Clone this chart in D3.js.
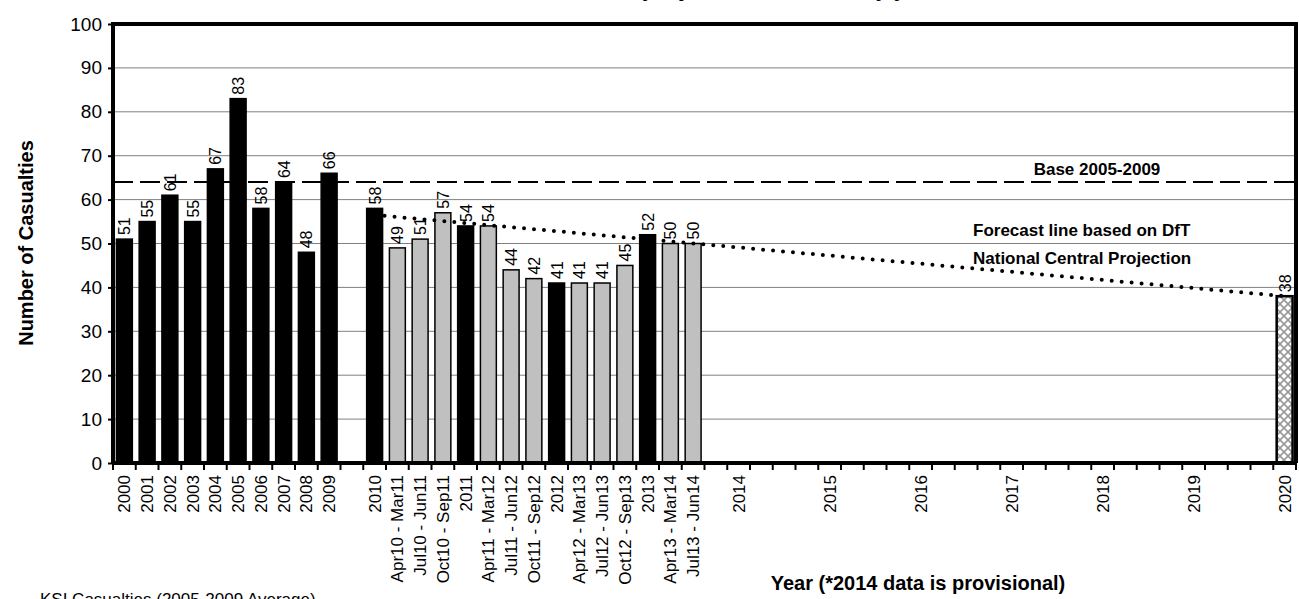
<!DOCTYPE html>
<html><head><meta charset="utf-8">
<script src="https://cdn.jsdelivr.net/npm/d3@7"></script>
<style>body{margin:0;background:#fff}text{font-family:"Liberation Sans",Arial,sans-serif}</style>
</head><body><svg id="c" width="1299" height="599"></svg>
<script>
const categories = ["2000","2001","2002","2003","2004","2005","2006","2007","2008","2009","",
 "2010","Apr10 - Mar11","Jul10 - Jun11","Oct10 - Sep11","2011","Apr11 - Mar12","Jul11 - Jun12","Oct11 - Sep12",
 "2012","Apr12 - Mar13","Jul12 - Jun13","Oct12 - Sep13","2013","Apr13 - Mar14","Jul13 - Jun14","",
 "2014","","","","2015","","","","2016","","","","2017","","","","2018","","","","2019","","","","2020"];
const annual = {"2000":51,"2001":55,"2002":61,"2003":55,"2004":67,"2005":83,"2006":58,"2007":64,"2008":48,"2009":66,"2010":58,"2011":54,"2012":41,"2013":52};
const rolling = {"Apr10 - Mar11":49,"Jul10 - Jun11":51,"Oct10 - Sep11":57,"Apr11 - Mar12":54,"Jul11 - Jun12":44,"Oct11 - Sep12":42,"Apr12 - Mar13":41,"Jul12 - Jun13":41,"Oct12 - Sep13":45,"Apr13 - Mar14":50,"Jul13 - Jun14":50};
const target = {"2020":38};
const baseValue = 64;
const forecast = [{i:11,v:56.5},{i:51,v:38}];
const yTicks = [0,10,20,30,40,50,60,70,80,90,100];

const svg = d3.select("#c");
const L=113,R=1296,T=24,B=463;
const keys = categories.map((c,i)=>i);
const x = d3.scaleBand().domain(keys).range([L,R]).paddingInner(0.3).paddingOuter(0.15);
const y = d3.scaleLinear().domain([0,100]).range([B,T]);
const cw = (R-L)/categories.length;

const defs = svg.append("defs");
const p = defs.append("pattern").attr("id","hatch").attr("patternUnits","userSpaceOnUse").attr("width",8).attr("height",8);
p.append("rect").attr("width",8).attr("height",8).attr("fill","#fff");
p.append("path").attr("d","M0,0L8,8M8,0L0,8").attr("stroke","#999").attr("stroke-width",1.6);

svg.append("text").attr("x",700).attr("y",-4).attr("text-anchor","middle").attr("font-weight","bold").attr("font-size",22)
 .text("Killed or Seriously Injured Casualties, by year");

svg.append("g").selectAll("line").data(yTicks.filter(d=>d>0&&d<100)).join("line")
 .attr("x1",L).attr("x2",R).attr("y1",d=>y(d)).attr("y2",d=>y(d)).attr("stroke","#808080").attr("stroke-width",1);

const ya = svg.append("g").attr("transform",`translate(${L},0)`).call(d3.axisLeft(y).tickValues(yTicks).tickSize(5).tickPadding(6));
ya.select(".domain").remove();
ya.selectAll("line").attr("stroke","#000").attr("stroke-width",2);
ya.selectAll("text").attr("font-size",19).attr("fill","#000");

const barStyle=(sel)=>sel.attr("x",d=>x(d.i)).attr("width",x.bandwidth()).attr("y",d=>y(d.v)).attr("height",d=>B-y(d.v)).attr("stroke","#000").attr("stroke-width",1.5);
const ann = categories.map((c,i)=>({i,c,v:annual[c]})).filter(d=>d.v!=null);
const rol = categories.map((c,i)=>({i,c,v:rolling[c]})).filter(d=>d.v!=null);
const tgt = categories.map((c,i)=>({i,c,v:target[c]})).filter(d=>d.v!=null);
svg.append("g").selectAll("rect").data(ann).join("rect").call(barStyle).attr("fill","#000");
svg.append("g").selectAll("rect").data(rol).join("rect").call(barStyle).attr("fill","#c0c0c0");
svg.append("g").selectAll("rect").data(tgt).join("rect").call(barStyle).attr("fill","url(#hatch)").attr("stroke-width",2.5);

svg.append("g").selectAll("text").data([...ann,...rol,...tgt]).join("text")
 .attr("transform",d=>`translate(${x(d.i)+x.bandwidth()/2+6},${y(d.v)-4}) rotate(-90)`)
 .attr("font-size",16).attr("text-anchor","start").text(d=>d.v);

svg.append("line").attr("x1",L).attr("x2",R).attr("y1",y(baseValue)).attr("y2",y(baseValue))
 .attr("stroke","#000").attr("stroke-width",2).attr("stroke-dasharray","20,7");
svg.append("text").attr("x",1097).attr("y",y(baseValue)-7).attr("text-anchor","middle").attr("font-weight","bold").attr("font-size",17)
 .text("Base 2005-2009");

const fl = d3.line().x(d=>x(d.i)+x.bandwidth()/2).y(d=>y(d.v));
svg.append("path").attr("d",fl(forecast)).attr("fill","none").attr("stroke","#000").attr("stroke-width",4)
 .attr("stroke-linecap","round").attr("stroke-dasharray","0,10");
const ft = svg.append("text").attr("font-weight","bold").attr("font-size",17);
ft.append("tspan").attr("x",973).attr("y",236).text("Forecast line based on DfT");
ft.append("tspan").attr("x",973).attr("y",264).text("National Central Projection");

svg.append("path").attr("d",`M${L},${B}V${T}H${R}V${B}`).attr("fill","none").attr("stroke","#000").attr("stroke-width",4);

const xa = svg.append("g").attr("transform",`translate(0,${B})`);
xa.append("line").attr("x1",L).attr("x2",R).attr("stroke","#000").attr("stroke-width",4);
xa.selectAll("line.t").data(d3.range(categories.length+1)).join("line").attr("class","t")
 .attr("x1",i=>L+i*cw).attr("x2",i=>L+i*cw)
 .attr("y1",0).attr("y2",7).attr("stroke","#000").attr("stroke-width",2);
xa.selectAll("text").data(categories.map((c,i)=>({c,i})).filter(d=>d.c)).join("text")
 .attr("transform",d=>`translate(${L+(d.i+0.5)*cw+6},12) rotate(-90)`)
 .attr("text-anchor","end").attr("font-size",17).text(d=>d.c);

svg.append("text").attr("transform","translate(33,243) rotate(-90)").attr("text-anchor","middle").attr("font-weight","bold").attr("font-size",20)
 .text("Number of Casualties");
svg.append("text").attr("x",918).attr("y",590).attr("text-anchor","middle").attr("font-weight","bold").attr("font-size",20)
 .text("Year (*2014 data is provisional)");
svg.append("text").attr("x",40).attr("y",605).attr("font-size",17).text("KSI Casualties (2005-2009 Average)");
</script></body></html>
